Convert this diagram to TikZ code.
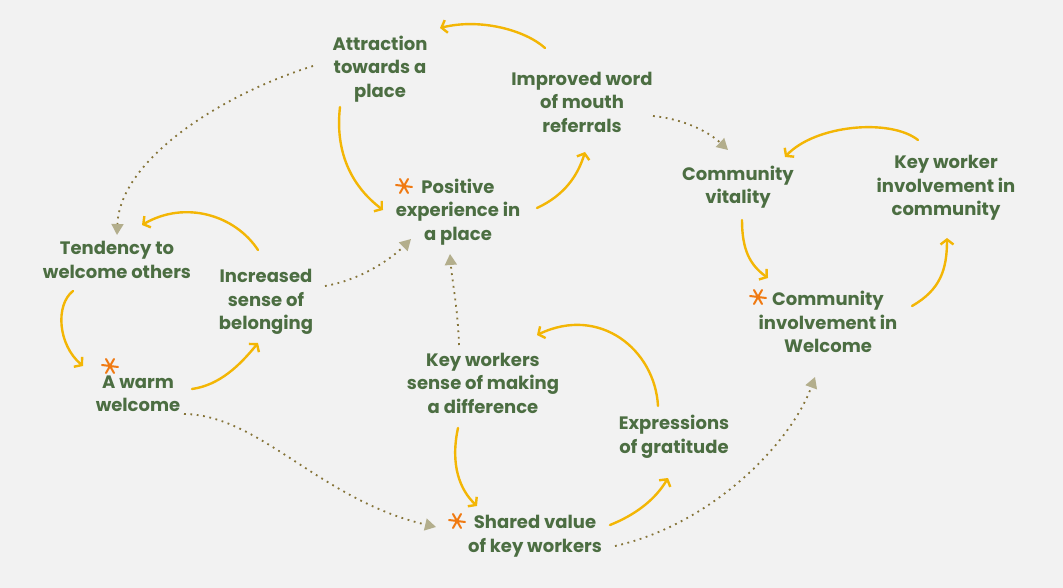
\documentclass[tikz,border=0pt]{standalone}
\usepackage{fontspec}
\setmainfont{Poppins}
\usetikzlibrary{arrows.meta}
\definecolor{bggrey}{HTML}{F2F2F2}
\definecolor{leafgreen}{HTML}{4C6E42}
\definecolor{loopyellow}{HTML}{F3B605}
\definecolor{dotolive}{HTML}{857438}
\definecolor{tipolive}{HTML}{B3AE8C}
\definecolor{starorange}{HTML}{F07A12}

\begin{document}
\begin{tikzpicture}[
  x=1pt, y=-1pt,
  factor/.style={align=center, text=leafgreen, font=\fontsize{18}{23.5}\selectfont\bfseries, inner sep=4pt},
  link/.style={-{Straight Barb[length=5pt,width=13pt]}, loopyellow, line width=2.4pt, line cap=round},
  hint/.style={-{Triangle[length=11pt,width=12pt,color=tipolive]}, dotolive, line width=1.8pt, dash pattern=on 1.8pt off 4.6pt},
  asterisk/.pic={\draw[starorange, line width=2pt, line cap=round] (-8,-1) -- (8,1) (-4,-7) -- (4,7) (-4,7) -- (4,-7);}
]
\fill[bggrey] (0,0) rectangle (1063,588);
\useasboundingbox (0,0) rectangle (1063,588);

\node[factor] (attr) at (380,69) {Attraction\\towards a\\place};
\node[factor] (word) at (582,102) {Improved word\\of mouth\\referrals};
\node[factor] (posexp) at (458,212) {Positive\\experience in\\a place};
\node[factor] (tend) at (117,260) {Tendency to\\welcome others};
\node[factor] (incr) at (266,302) {Increased\\sense of\\belonging};
\node[factor] (warm) at (138,394) {A warm\\welcome};
\node[factor] (kwsense) at (483,383) {Key workers\\sense of making\\a difference};
\node[factor] (expr) at (674,437) {Expressions\\of gratitude};
\node[factor] (shared) at (535,536) {Shared value\\of key workers};
\node[factor] (vital) at (738,187) {Community\\vitality};
\node[factor] (kwinv) at (946,188) {Key worker\\involvement in\\community};
\node[factor] (cominv) at (828,322) {Community\\involvement in\\Welcome};

\pic (astpos) at (404,186) {asterisk};
\pic (astwarm) at (110,366) {asterisk};
\pic (astshared) at (457,521) {asterisk};
\pic (astcom) at (758,297) {asterisk};

\draw[link] ([shift={(-37,-54)}]word.center) .. controls +(-20,-18) and +(40,-10) .. ([shift={(60,-41)}]attr.center);
\draw[link] ([shift={(-40,38)}]attr.center) .. controls +(-5,43) and +(-33,-25) .. ([shift={(-75,-2)}]posexp.center);
\draw[link] ([shift={(79,-4)}]posexp.center) .. controls +(28,-13) and +(-7,23) .. ([shift={(3,50)}]word.center);
\draw[link] ([shift={(-8,-52)}]incr.center) .. controls +(-23,-35) and +(43,-25) .. ([shift={(25,-35)}]tend.center);
\draw[link] ([shift={(-44,31)}]tend.center) .. controls +(-18,14) and +(-25,-21) .. ([shift={(-55,-28)}]warm.center);
\draw[link] ([shift={(54,-5)}]warm.center) .. controls +(28,-4) and +(-18,22) .. ([shift={(-8,41)}]incr.center);
\draw[link] ([shift={(-25,45)}]kwsense.center) .. controls +(-8,37) and +(-17,-16) .. ([shift={(-58,-30)}]shared.center);
\draw[link] ([shift={(75,-11)}]shared.center) .. controls +(25,-10) and +(-13,22) .. ([shift={(-6,41)}]expr.center);
\draw[link] ([shift={(-16,-31)}]expr.center) .. controls +(-3,-56) and +(63,-30) .. ([shift={(54,-48)}]kwsense.center);
\draw[link] ([shift={(4,33)}]vital.center) .. controls +(0,30) and +(-18,-13) .. ([shift={(-60,-44)}]cominv.center);
\draw[link] ([shift={(84,-16)}]cominv.center) .. controls +(28,-16) and +(0,32) .. ([shift={(1,50)}]kwinv.center);
\draw[link] ([shift={(-28,-48)}]kwinv.center) .. controls +(-28,-22) and +(30,-32) .. ([shift={(47,-30)}]vital.center);

\draw[hint] ([shift={(-67,-3)}]attr.center) .. controls +(-93,29) and +(3,-75) .. ([shift={(0,-25)}]tend.center);
\draw[hint] ([shift={(59,-16)}]incr.center) .. controls +(35,-6) and +(-21,21) .. ([shift={(-47,27)}]posexp.center);
\draw[hint] ([shift={(-24,-38)}]kwsense.center) .. controls +(-1,-35) and +(2,26) .. ([shift={(-8,42)}]posexp.center);
\draw[hint] ([shift={(71,14)}]word.center) .. controls +(37,4) and +(-16,-15) .. ([shift={(-10,-37)}]vital.center);
\draw[hint] ([shift={(46,20)}]warm.center) .. controls +(76,1) and +(-116,-27) .. ([shift={(-99,-9)}]shared.center);
\draw[hint] ([shift={(80,10)}]shared.center) .. controls +(95,-21) and +(-25,68) .. ([shift={(-13,55)}]cominv.center);
\end{tikzpicture}
\end{document}
